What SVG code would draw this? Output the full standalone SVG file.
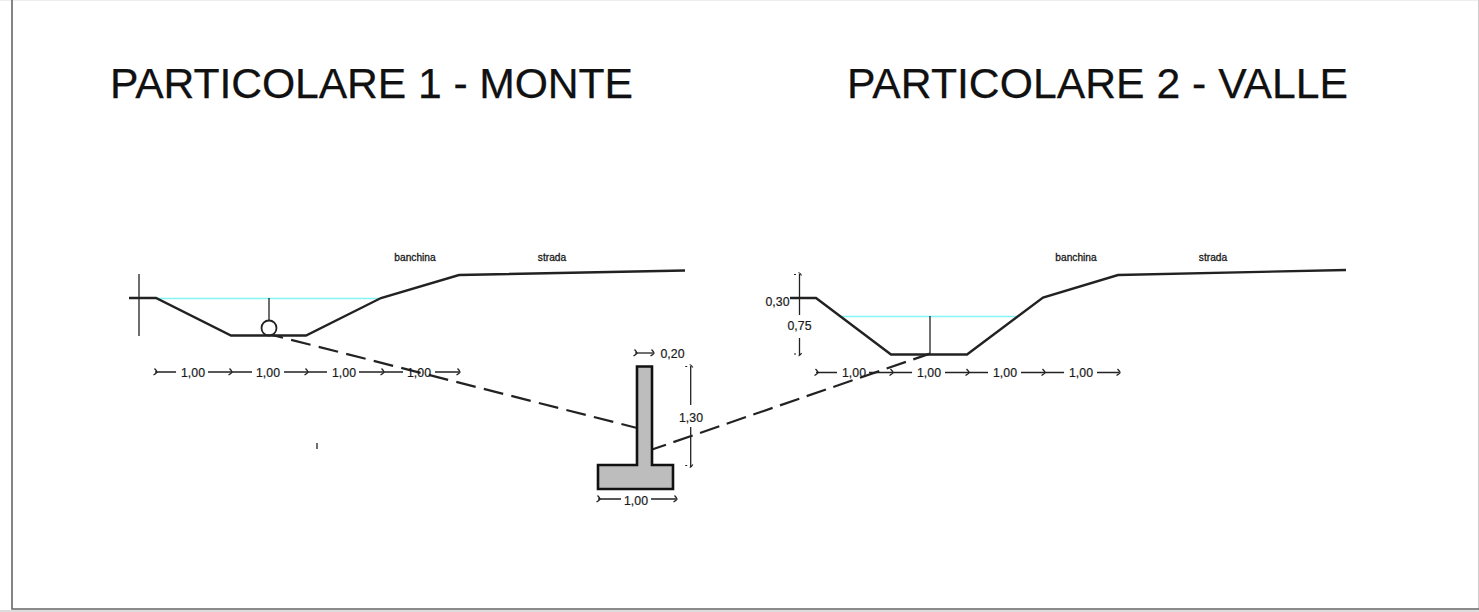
<svg xmlns="http://www.w3.org/2000/svg" width="1479" height="612" viewBox="0 0 1479 612">
<defs>
<style>
text{font-family:"Liberation Sans",Arial,sans-serif;fill:#1a1a1a}
.title{font-size:42.7px;fill:#111;stroke:#111;stroke-width:.25}
.dim{font-size:12.3px;text-anchor:middle;stroke:#1a1a1a;stroke-width:.2}
.lab{font-size:10.2px;text-anchor:middle;stroke:#1a1a1a;stroke-width:.3}
.prof{fill:none;stroke:#222;stroke-width:2.4;stroke-linejoin:miter}
.water{fill:none;stroke:#84f4f4;stroke-width:1.4}
.thin{fill:none;stroke:#222;stroke-width:1.3}
.dash{fill:none;stroke:#222;stroke-width:2.2}
.wall{fill:#bdbdbd;stroke:#111;stroke-width:2.6}
</style>
<path id="t" d="M-1.5,-3.5 Q1,-1 1,0 Q1,1 -2.5,3" fill="none" stroke="#222" stroke-width="1.3"/>
<path id="v" d="M-5.5,0.5H-3.5M-1,-1.5 Q1,-1 2,1.5" fill="none" stroke="#222" stroke-width="1.2"/>
<path id="w" d="M-5.5,-0.5H-3.5M-1,1.5 Q1,1 2,-1.5" fill="none" stroke="#222" stroke-width="1.2"/>
</defs>
<rect x="0" y="0" width="1479" height="612" fill="#fff"/>
<rect x="0" y="0" width="1479" height="1" fill="#eee"/>
<rect x="1478" y="0" width="1" height="612" fill="#ccc"/>
<rect x="0" y="610" width="1479" height="2" fill="#ddd"/>
<path d="M12,0V609H1479" fill="none" stroke="#666" stroke-width="1.6"/>
<g id="titles">
<text class="title" x="110" y="98" textLength="523">PARTICOLARE 1 - MONTE</text>
<text class="title" x="847" y="98" textLength="501">PARTICOLARE 2 - VALLE</text>
</g>
<g id="connectors">
<path class="dash" d="M271,334.7L636,427.7" stroke-dasharray="20 8.4" stroke-dashoffset="7.6"/>
<path class="dash" d="M652,449.5L930,353.6" stroke-dasharray="20.4 7.8" stroke-dashoffset="5.6"/>
</g>
<g id="profile-monte">
<path class="water" d="M156,298.5H381"/>
<path class="prof" d="M129,298H156L231,335.5H306L381,298L459,275L685,270.5"/>
<path class="thin" d="M139,274V336M269,298V320"/>
<circle cx="269" cy="328" r="7.5" fill="none" stroke="#222" stroke-width="1.8"/>
<text class="lab" x="415" y="261">banchina</text>
<text class="lab" x="552" y="261">strada</text>
<path class="thin" d="M155,372H176M208,372H252M284,372H327M359,372H403M435,372H459"/>
<g>
<use href="#t" x="156" y="372"/><use href="#t" x="231" y="372"/><use href="#t" x="307" y="372"/><use href="#t" x="383" y="372"/><use href="#t" x="459" y="372"/>
</g>
<text class="dim" x="193" y="377">1,00</text>
<text class="dim" x="268" y="377">1,00</text>
<text class="dim" x="344" y="377">1,00</text>
<text class="dim" x="419" y="377">1,00</text>
<path class="thin" d="M317,443V449"/>
</g>
<g id="profile-valle">
<path class="water" d="M842,316.5H1017"/>
<path class="prof" d="M790,298H816L891,354.5H967L1043,297.5L1118,275L1346,270"/>
<path class="thin" d="M930,316V354"/>
<path class="thin" d="M799.5,274V315M799.5,338V355"/>
<use href="#v" x="799.5" y="274"/><use href="#w" x="799.5" y="354.5"/>
<text class="dim" x="777.5" y="306">0,30</text>
<text class="dim" x="799.5" y="330">0,75</text>
<text class="lab" x="1076" y="261">banchina</text>
<text class="lab" x="1213" y="261">strada</text>
<path class="thin" d="M816,372.5H837M869,372.5H912M945,372.5H988M1021,372.5H1064M1097,372.5H1119"/>
<g>
<use href="#t" x="817" y="372.5"/><use href="#t" x="892" y="372.5"/><use href="#t" x="968" y="372.5"/><use href="#t" x="1044" y="372.5"/><use href="#t" x="1119" y="372.5"/>
</g>
<text class="dim" x="854" y="377">1,00</text>
<text class="dim" x="929" y="377">1,00</text>
<text class="dim" x="1005" y="377">1,00</text>
<text class="dim" x="1081" y="377">1,00</text>
</g>
<g id="muro">
<path class="wall" d="M637,366.5H652V465H673V489H598V465H637Z"/>
<path class="thin" d="M635,353H653"/>
<use href="#t" x="636" y="353"/><use href="#t" x="653" y="353"/>
<text class="dim" x="672.5" y="357.5">0,20</text>
<path class="thin" d="M690.7,366V405M690.7,427V467"/>
<use href="#v" x="690.7" y="366"/><use href="#w" x="690.7" y="466"/>
<text class="dim" x="691" y="421.5">1,30</text>
<path class="thin" d="M598,499H621M651,499H676"/>
<use href="#t" x="599" y="499"/><use href="#t" x="676" y="499"/>
<text class="dim" x="636" y="504.5">1,00</text>
</g>
</svg>
